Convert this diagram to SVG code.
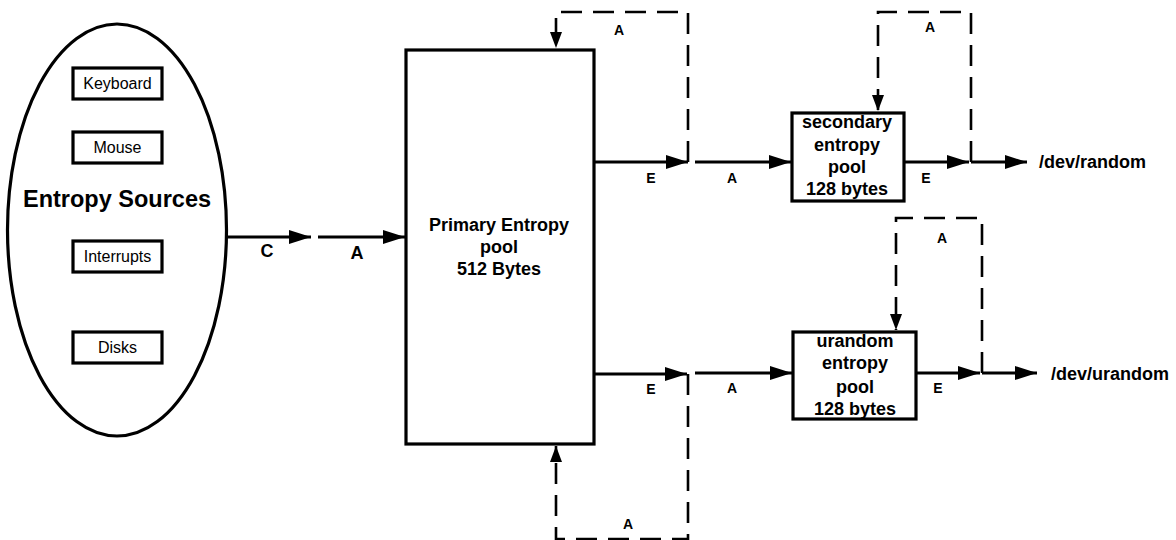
<svg xmlns="http://www.w3.org/2000/svg" width="1176" height="540" viewBox="0 0 1176 540">
<style>
.box{fill:#fff;stroke:#000;stroke-width:3.2}
.ln{fill:none;stroke:#000;stroke-width:3}
.dash{fill:none;stroke:#000;stroke-width:2.6;stroke-dasharray:21 11}
.sm{font-family:"Liberation Sans",Arial,sans-serif;font-size:16px;text-anchor:middle}
.bt{font-family:"Liberation Sans",Arial,sans-serif;font-weight:bold;text-anchor:middle}
.st{text-anchor:start}
.lab{font-family:"Liberation Sans",Arial,sans-serif;font-weight:bold;font-size:14px;text-anchor:middle}
.big{font-size:18px}
</style>
<defs>
<marker id="ah" markerUnits="userSpaceOnUse" markerWidth="24" markerHeight="16" refX="22" refY="7" orient="auto">
<path d="M0,0 L22,7 L0,14 z" fill="#000"/>
</marker>
<marker id="ahd" markerUnits="userSpaceOnUse" markerWidth="18" markerHeight="14" refX="16" refY="6" orient="auto">
<path d="M0,0 L16,6 L0,12 z" fill="#000"/>
</marker>
</defs>
<g id="sources">
<ellipse cx="117" cy="230" rx="109.5" ry="206" class="box"/>
<text x="117" y="207" class="bt" font-size="23.5">Entropy Sources</text>
</g>
<g id="keyboard"><rect x="73" y="68" width="89" height="31" class="box"/><text x="117.5" y="89" class="sm">Keyboard</text></g>
<g id="mouse"><rect x="73" y="132" width="89" height="31" class="box"/><text x="117.5" y="153" class="sm">Mouse</text></g>
<g id="interrupts"><rect x="73" y="241" width="89" height="31" class="box"/><text x="117.5" y="262" class="sm">Interrupts</text></g>
<g id="disks"><rect x="73" y="332" width="89" height="31" class="box"/><text x="117.5" y="353" class="sm">Disks</text></g>
<g id="primary">
<rect x="406" y="50" width="188" height="394" class="box"/>
<text x="499" y="231" class="bt" font-size="18">Primary Entropy</text>
<text x="499" y="253" class="bt" font-size="18">pool</text>
<text x="499" y="275" class="bt" font-size="18">512 Bytes</text>
</g>
<g id="secondary">
<rect x="792" y="113" width="112" height="88" class="box"/>
<text x="847" y="128" class="bt" font-size="18">secondary</text>
<text x="847" y="151" class="bt" font-size="18">entropy</text>
<text x="847" y="173" class="bt" font-size="18">pool</text>
<text x="847" y="195" class="bt" font-size="18">128 bytes</text>
</g>
<g id="urandom">
<rect x="793" y="332" width="123" height="87" class="box"/>
<text x="855" y="347" class="bt" font-size="18">urandom</text>
<text x="855" y="369" class="bt" font-size="18">entropy</text>
<text x="855" y="393" class="bt" font-size="18">pool</text>
<text x="855" y="415" class="bt" font-size="18">128 bytes</text>
</g>
<g id="devrandom"><text x="1039" y="168" class="bt st" font-size="18">/dev/random</text></g>
<g id="devurandom"><text x="1051" y="380" class="bt st" font-size="18">/dev/urandom</text></g>
<g id="connectors">
<path d="M227,237 H311" class="ln" marker-end="url(#ah)"/>
<path d="M318,237 H405" class="ln" marker-end="url(#ah)"/>
<path d="M594,162 H688" class="ln" marker-end="url(#ah)"/>
<path d="M695,162 H791" class="ln" marker-end="url(#ah)"/>
<path d="M904,162 H969" class="ln" marker-end="url(#ah)"/>
<path d="M971,162 H1027" class="ln" marker-end="url(#ah)"/>
<path d="M594,374 H687" class="ln" marker-end="url(#ah)"/>
<path d="M695,373 H792" class="ln" marker-end="url(#ah)"/>
<path d="M916,373 H980" class="ln" marker-end="url(#ah)"/>
<path d="M982,373 H1037" class="ln" marker-end="url(#ah)"/>
<path d="M688,162 V12 H556 V48" class="dash" marker-end="url(#ahd)"/>
<path d="M971,162 V12 H878 V111" class="dash" marker-end="url(#ahd)"/>
<path d="M982,373 V218 H896 V330" class="dash" marker-end="url(#ahd)"/>
<path d="M688,374 V539 H556 V446" class="dash" marker-end="url(#ahd)"/>
<text x="267" y="257" class="lab big">C</text>
<text x="357" y="259" class="lab big">A</text>
<text x="619" y="35" class="lab">A</text>
<text x="651" y="183" class="lab">E</text>
<text x="732" y="183" class="lab">A</text>
<text x="926" y="183" class="lab">E</text>
<text x="930" y="32" class="lab">A</text>
<text x="942" y="243" class="lab">A</text>
<text x="732" y="393" class="lab">A</text>
<text x="938" y="393" class="lab">E</text>
<text x="651" y="394" class="lab">E</text>
<text x="628" y="529" class="lab">A</text>
</g>
</svg>
